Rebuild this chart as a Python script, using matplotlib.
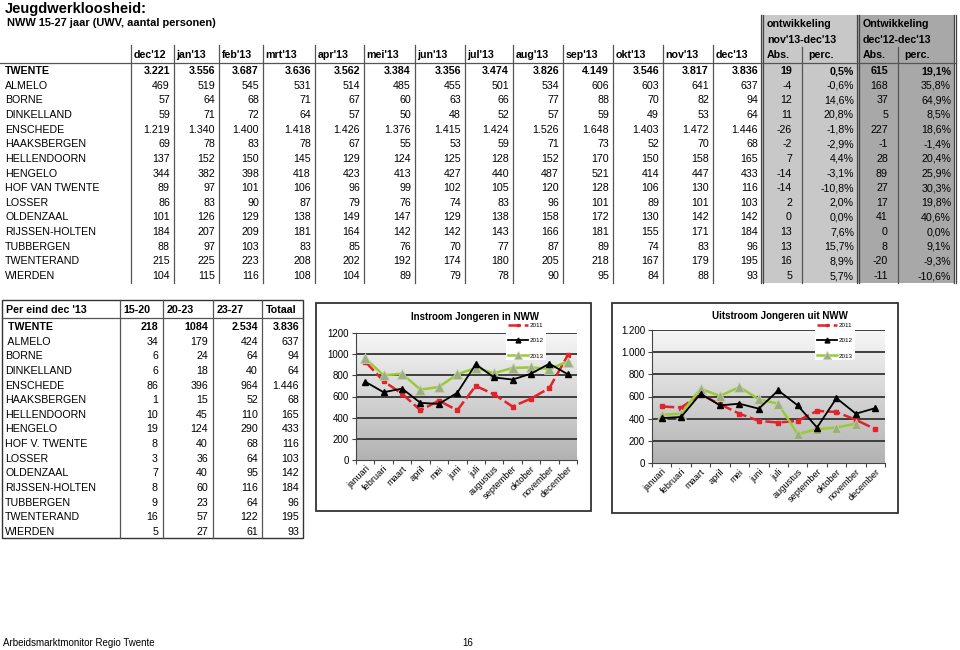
import numpy as np
import matplotlib
matplotlib.use('Agg')
import matplotlib.pyplot as plt
from matplotlib.patches import Rectangle
from matplotlib.colors import LinearSegmentedColormap

plt.rcParams['font.family'] = ['Liberation Sans', 'DejaVu Sans']

# ---- data: NWW 15-27 jaar per gemeente ----
maand_kop = ["dec'12", "jan'13", "feb'13", "mrt'13", "apr'13", "mei'13", "jun'13",
             "jul'13", "aug'13", "sep'13", "okt'13", "nov'13", "dec'13"]
gemeenten = ["TWENTE", "ALMELO", "BORNE", "DINKELLAND", "ENSCHEDE", "HAAKSBERGEN",
             "HELLENDOORN", "HENGELO", "HOF VAN TWENTE", "LOSSER", "OLDENZAAL",
             "RIJSSEN-HOLTEN", "TUBBERGEN", "TWENTERAND", "WIERDEN"]
nww = [
    [3221, 3556, 3687, 3636, 3562, 3384, 3356, 3474, 3826, 4149, 3546, 3817, 3836],
    [469, 519, 545, 531, 514, 485, 455, 501, 534, 606, 603, 641, 637],
    [57, 64, 68, 71, 67, 60, 63, 66, 77, 88, 70, 82, 94],
    [59, 71, 72, 64, 57, 50, 48, 52, 57, 59, 49, 53, 64],
    [1219, 1340, 1400, 1418, 1426, 1376, 1415, 1424, 1526, 1648, 1403, 1472, 1446],
    [69, 78, 83, 78, 67, 55, 53, 59, 71, 73, 52, 70, 68],
    [137, 152, 150, 145, 129, 124, 125, 128, 152, 170, 150, 158, 165],
    [344, 382, 398, 418, 423, 413, 427, 440, 487, 521, 414, 447, 433],
    [89, 97, 101, 106, 96, 99, 102, 105, 120, 128, 106, 130, 116],
    [86, 83, 90, 87, 79, 76, 74, 83, 96, 101, 89, 101, 103],
    [101, 126, 129, 138, 149, 147, 129, 138, 158, 172, 130, 142, 142],
    [184, 207, 209, 181, 164, 142, 142, 143, 166, 181, 155, 171, 184],
    [88, 97, 103, 83, 85, 76, 70, 77, 87, 89, 74, 83, 96],
    [215, 225, 223, 208, 202, 192, 174, 180, 205, 218, 167, 179, 195],
    [104, 115, 116, 108, 104, 89, 79, 78, 90, 95, 84, 88, 93],
]

# ---- data: leeftijdsklassen per eind dec '13 ----
leeftijd_kop = ["15-20", "20-23", "23-27"]
gemeenten_kort = [" TWENTE", " ALMELO", "BORNE", "DINKELLAND", "ENSCHEDE", "HAAKSBERGEN",
                  "HELLENDOORN", "HENGELO", "HOF V. TWENTE", "LOSSER", "OLDENZAAL",
                  "RIJSSEN-HOLTEN", "TUBBERGEN", "TWENTERAND", "WIERDEN"]
lft_15_20 = [218, 34, 6, 6, 86, 1, 10, 19, 8, 3, 7, 8, 9, 16, 5]
lft_20_23 = [1084, 179, 24, 18, 396, 15, 45, 124, 40, 36, 40, 60, 23, 57, 27]
lft_23_27 = [2534, 424, 64, 40, 964, 52, 110, 290, 68, 64, 95, 116, 64, 122, 61]

# ---- data: in- en uitstroom ----
maanden = ["januari", "februari", "maart", "april", "mei", "juni", "juli",
           "augustus", "september", "oktober", "november", "december"]
in_2011 = [930, 745, 625, 470, 560, 470, 700, 620, 505, 580, 680, 990]
in_2012 = [740, 640, 675, 540, 530, 635, 905, 780, 760, 815, 910, 810]
in_2013 = [960, 800, 815, 665, 690, 810, 870, 820, 870, 875, 860, 930]
uit_2011 = [510, 500, 620, 530, 445, 380, 365, 380, 470, 460, 390, 305]
uit_2012 = [405, 415, 625, 520, 535, 490, 655, 520, 320, 585, 445, 495]
uit_2013 = [435, 445, 670, 605, 685, 575, 535, 260, 305, 320, 355]


def nl(n):
    return f"{n:,}".replace(",", ".")


def pct(p):
    return f"{p:.1f}".replace(".", ",") + "%"


fig = plt.figure(figsize=(9.6, 6.5), dpi=100)
ax = fig.add_axes([0, 0, 1, 1])
ax.set_xlim(0, 960)
ax.set_ylim(650, 0)
ax.axis('off')

fs = 7.7
lc = '#555555'

ax.text(5, 9, "Jeugdwerkloosheid:", fontsize=10.5, fontweight='bold', va='center')
ax.text(7, 23, "NWW 15-27 jaar (UWV, aantal personen)", fontsize=7.9,
        fontweight='bold', va='center')

# ---- main table ----
seps = [131, 174, 219, 263, 315, 364, 415, 465, 513, 563, 613, 663, 713, 762]
ytop, ybot = 45, 283
row_y = [71 + i * 14.65 for i in range(len(gemeenten))]

ax.add_patch(Rectangle((762, 15), 96, ybot - 15, fc='#c8c8c8', ec='none'))
ax.add_patch(Rectangle((858, 15), 97, ybot - 15, fc='#a8a8a8', ec='none'))

for x in seps[:-1]:
    ax.plot([x, x], [ytop, ybot], color=lc, lw=0.9)
for x in [762, 858, 955]:
    ax.plot([x - 1.5, x - 1.5], [15, ybot], color='#444444', lw=0.9)
    ax.plot([x + 1.2, x + 1.2], [15, ybot], color='#444444', lw=0.9)
for x in [802, 898]:
    ax.plot([x, x], [47, ybot], color=lc, lw=0.9)
ax.plot([0, 956], [63, 63], color=lc, lw=0.9)

for j, m in enumerate(maand_kop):
    ax.text(seps[j] + 2.5, 55, m, fontsize=fs, fontweight='bold', va='center')

ax.text(767, 24, "ontwikkeling", fontsize=fs, fontweight='bold', va='center')
ax.text(767, 40, "nov'13-dec'13", fontsize=fs, fontweight='bold', va='center')
ax.text(863, 24, "Ontwikkeling", fontsize=fs, fontweight='bold', va='center')
ax.text(863, 40, "dec'12-dec'13", fontsize=fs, fontweight='bold', va='center')
for x0 in [767, 863]:
    ax.text(x0, 55, "Abs.", fontsize=fs, fontweight='bold', va='center')
    ax.text(x0 + 41, 55, "perc.", fontsize=fs, fontweight='bold', va='center')

for i, (naam, vals) in enumerate(zip(gemeenten, nww)):
    y = row_y[i]
    fw = 'bold' if i == 0 else 'normal'
    ax.text(5, y, naam, fontsize=fs, fontweight=fw, va='center')
    for j, v in enumerate(vals):
        ax.text(seps[j + 1] - 4, y, nl(v), fontsize=fs, fontweight=fw,
                va='center', ha='right')
    d1 = vals[-1] - vals[-2]
    d2 = vals[-1] - vals[0]
    ax.text(792, y, str(d1), fontsize=fs, fontweight=fw, va='center', ha='right')
    ax.text(854, y, pct(100 * d1 / vals[-2]), fontsize=fs, fontweight=fw,
            va='center', ha='right')
    ax.text(888, y, str(d2), fontsize=fs, fontweight=fw, va='center', ha='right')
    ax.text(951, y, pct(100 * d2 / vals[0]), fontsize=fs, fontweight=fw,
            va='center', ha='right')

# ---- bottom-left table ----
ax.add_patch(Rectangle((2, 300), 301, 238, fill=False, ec='#333333', lw=1.0))
for x in [120, 163, 213, 262]:
    ax.plot([x, x], [300, 538], color=lc, lw=0.9)
ax.plot([2, 303], [318, 318], color=lc, lw=0.9)
ax.text(6, 310, "Per eind dec '13", fontsize=fs, fontweight='bold', va='center')
for x, t in zip([123, 167, 217, 266], leeftijd_kop + ["Totaal"]):
    ax.text(x, 310, t, fontsize=fs, fontweight='bold', va='center')

for i, naam in enumerate(gemeenten_kort):
    y = 327 + i * 14.64
    fw = 'bold' if i == 0 else 'normal'
    tot = lft_15_20[i] + lft_20_23[i] + lft_23_27[i]
    ax.text(5, y, naam, fontsize=fs, fontweight=fw, va='center')
    vals = [str(lft_15_20[i]), str(lft_20_23[i]), nl(lft_23_27[i]), nl(tot)]
    for x, t in zip([158, 208, 258, 299], vals):
        ax.text(x, y, t, fontsize=fs, fontweight=fw, va='center', ha='right')

# ---- charts ----
ax.add_patch(Rectangle((316, 303), 275, 208, fc='white', ec='#333333', lw=1.3))
ax.add_patch(Rectangle((612, 303), 286, 210, fc='white', ec='#333333', lw=1.3))
ax.text(475, 317, "Instroom Jongeren in NWW", fontsize=7, fontweight='bold',
        ha='center', va='center')
ax.text(780, 316, "Uitstroom Jongeren uit NWW", fontsize=7, fontweight='bold',
        ha='center', va='center')

ax.text(3, 643, "Arbeidsmarktmonitor Regio Twente", fontsize=7, va='center')
ax.text(468, 643, "16", fontsize=7, va='center', ha='center')

grad = LinearSegmentedColormap.from_list('grad', ['#f7f7f7', '#b2b2b2'])


def chart(rect, s11, s12, s13, ylabels, leg_xy):
    c = fig.add_axes(rect)
    c.imshow(np.linspace(0, 1, 256).reshape(-1, 1), extent=[0, 12, 0, 1200],
             aspect='auto', cmap=grad, origin='upper', zorder=0)
    for v in range(200, 1201, 200):
        c.axhline(v, color='#333333', lw=1.3, zorder=1)
    x = np.arange(12) + 0.5
    h1, = c.plot(x[:len(s11)], s11, color='#e3222b', lw=1.8, dashes=(5, 1.5),
                 marker='s', ms=2.6, mfc='#e3222b', mec='#e3222b', zorder=3,
                 label='2011')
    h2, = c.plot(x[:len(s12)], s12, color='black', lw=1.3, marker='^', ms=5,
                 zorder=4, label='2012')
    h3, = c.plot(x[:len(s13)], s13, color='#9acb34', lw=1.8, marker='^', ms=7.5,
                 mfc='#9fad86', mec='#c2d2a6', mew=0.6, zorder=3.5, label='2013')
    c.set_xlim(0, 12)
    c.set_ylim(0, 1200)
    c.set_yticks(range(0, 1201, 200))
    c.set_yticklabels(ylabels, fontsize=7)
    c.set_xticks(range(13))
    c.set_xticklabels([])
    c.set_xticks(x, minor=True)
    c.set_xticklabels(maanden, minor=True, rotation=45, ha='right',
                      rotation_mode='anchor', fontsize=6.7)
    c.tick_params(axis='x', which='minor', length=0, pad=3)
    c.tick_params(axis='both', which='major', length=3, color='#444444',
                  direction='out', pad=2)
    for s in ['top', 'right']:
        c.spines[s].set_visible(False)
    for s in ['left', 'bottom']:
        c.spines[s].set_color('#444444')
    leg = c.legend(handles=[h1, h2, h3], loc='upper left', bbox_to_anchor=leg_xy,
                   bbox_transform=fig.transFigure, fontsize=4.5, frameon=True,
                   facecolor='white', edgecolor='none', fancybox=False,
                   framealpha=1, handlelength=3.2, handletextpad=0.3,
                   labelspacing=1.55, borderpad=0.3, markerscale=0.7)
    leg.set_zorder(10)
    return c


chart([356 / 960, 1 - 460 / 650, 221 / 960, 127 / 650], in_2011, in_2012, in_2013,
      [str(v) for v in range(0, 1201, 200)], (503 / 960, 1 - 318 / 650))
chart([652 / 960, 1 - 463 / 650, 233 / 960, 133 / 650], uit_2011, uit_2012, uit_2013,
      [nl(v) for v in range(0, 1201, 200)], (812 / 960, 1 - 318 / 650))

fig.savefig('out.png', dpi=100)
